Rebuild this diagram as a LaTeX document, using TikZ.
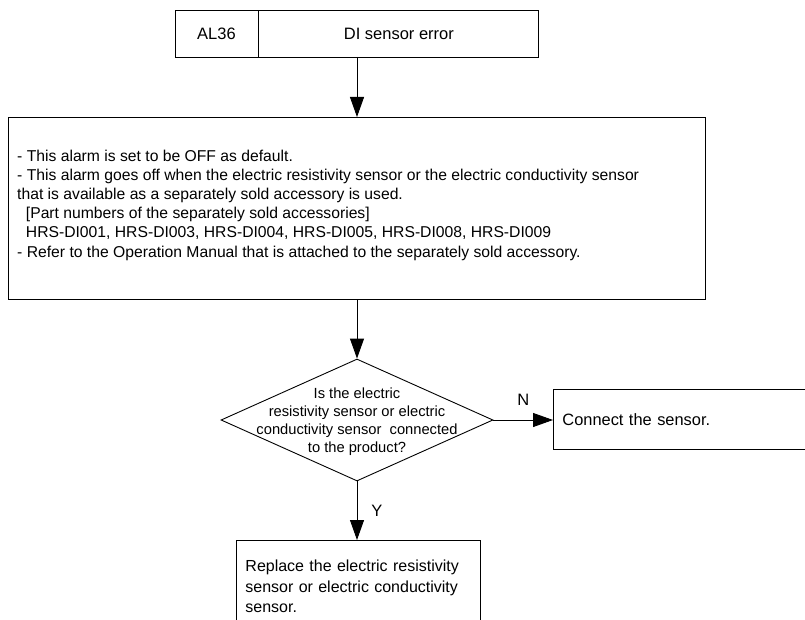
\documentclass[tikz,border=0pt]{standalone}
\usepackage{fontspec}
\setmainfont{Liberation Sans}
\usetikzlibrary{shapes.geometric,arrows.meta}
\begin{document}
\begin{tikzpicture}[x=1pt,y=-1pt,
  every node/.style={font=\fontsize{16.5}{20}\selectfont},
  box/.style={draw,line width=0.9pt,inner sep=0pt,rectangle},
  flow/.style={line width=0.9pt,-{Triangle[width=14pt,length=20pt]}},
  tag/.style={inner sep=0pt}]
\useasboundingbox (0,0) rectangle (805,620);
\clip (0,0) rectangle (805,620);

% heading: code and title
\node[box,minimum width=83pt,minimum height=47pt] (code) at (216.5,33.5) {AL36};
\node[box,minimum width=280pt,minimum height=47pt,anchor=west] (title) at (code.east) {DI sensor error};

% description of the alarm: frame, then its text
\node[box,minimum width=697pt,minimum height=182pt,anchor=north west] (info) at (8,117) {};
\node[tag,align=left,anchor=west,font=\fontsize{15.7}{19.2}\selectfont] (infotext) at (17,205) {%
- This alarm is set to be OFF as default.\\
- This alarm goes off when the electric resistivity sensor or the electric conductivity sensor\\
that is available as a separately sold accessory is used.\\
\ \ [Part numbers of the separately sold accessories]\\
\ \ HRS-DI001, HRS-DI003, HRS-DI004, HRS-DI005, HRS-DI008, HRS-DI009\\
- Refer to the Operation Manual that is attached to the separately sold accessory.};

% decision
\node[diamond,draw,line width=0.9pt,inner sep=0pt,minimum width=272pt,minimum height=122pt,
      aspect=2.23] (dec) at (357,420) {};
\node[tag,align=center,font=\fontsize{14.7}{17.8}\selectfont] (dectext) at (357,421.5)
  {Is the electric\\resistivity sensor or electric\\conductivity sensor\ \ connected\\to the product?};

% outcomes
\node[box,minimum width=270pt,minimum height=60pt,text width=252pt,align=left,
      inner xsep=9pt,anchor=north west,font=\fontsize{16.4}{20}\selectfont] (connect) at (553,389) {Connect the sensor.};
\node[box,minimum width=242pt,minimum height=92pt,text width=226pt,align=left,
      inner xsep=9pt,anchor=north west,font=\fontsize{16}{20.5}\selectfont] (replace) at (236,540)
  {Replace the electric resistivity\\sensor or electric conductivity\\sensor.\\[22pt]};

% connectors
\coordinate (t1) at (357,57);
\draw[flow] (t1) -- (info.north -| t1);
\draw[flow] (info.south -| dec.north) -- (dec.north);
\draw[flow] (dec.east) -- (connect.west |- dec.east) node[tag,midway,above=14pt] (nlab) {N};
\draw[flow] (dec.south) -- (replace.north -| dec.south) node[tag,midway,right=14pt] (ylab) {Y};
\end{tikzpicture}
\end{document}
